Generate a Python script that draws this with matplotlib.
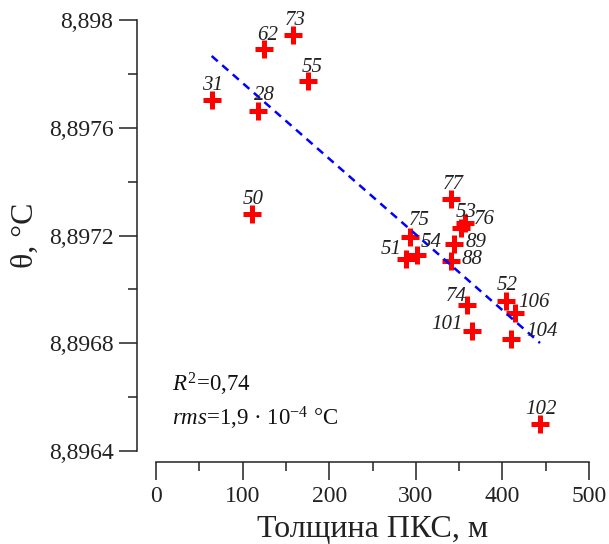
import numpy as np
import matplotlib
matplotlib.use("Agg")
import matplotlib.pyplot as plt
from matplotlib.ticker import MultipleLocator, FuncFormatter

# Well data: thickness of the permafrost layer vs. temperature theta
well_ids = ['31', '62', '73', '55', '28', '50', '77', '53', '76', '89',
            '88', '75', '51', '54', '52', '74', '106', '101', '104', '102']
thickness_m = [64.3, 125.0, 158.6, 175.9, 118.2, 110.5, 340.2, 351.8, 356.5, 344.1,
               340.6, 293.3, 288.7, 301.4, 404.2, 359.5, 414.5, 364.5, 410.0, 443.4]
theta_c = [8.897703, 8.897892, 8.897944, 8.897774, 8.897662, 8.897278, 8.897335,
           8.897226, 8.897247, 8.897168, 8.897105, 8.897193, 8.897113, 8.897126,
           8.896958, 8.896942, 8.896911, 8.896846, 8.896816, 8.896500]

# Label placement: (dx px, dy px, horizontal alignment) relative to each point
label_offsets = {
    '31': (1, 10, 'center'), '62': (3, 9, 'center'), '73': (1.5, 10, 'center'),
    '55': (4, 9, 'center'), '28': (6, 11, 'center'), '50': (1.5, 10, 'center'),
    '77': (2.5, 10, 'center'), '53': (6, 11, 'center'), '76': (9, -1.5, 'left'),
    '89': (12, -3, 'left'), '88': (11, -3, 'left'), '75': (9.5, 12, 'center'),
    '51': (-4, 5, 'right'), '54': (4, 8, 'left'), '52': (1, 10.5, 'center'),
    '74': (-1, 4, 'right'), '106': (3, 6, 'left'), '101': (-9, 1.5, 'right'),
    '104': (15, 3, 'left'), '102': (1, 10, 'center'),
}

SERIF = ['Liberation Serif', 'DejaVu Serif']
plt.rcParams['font.family'] = SERIF
plt.rcParams['mathtext.fontset'] = 'custom'
plt.rcParams['mathtext.rm'] = 'Liberation Serif'
plt.rcParams['mathtext.it'] = 'Liberation Serif:italic'

W, H = 609, 544
fig = plt.figure(figsize=(W / 100, H / 100), dpi=100)
ax = fig.add_axes([156 / W, 1 - 451 / H, (589 - 156) / W, (451 - 20) / H])

x = np.asarray(thickness_m)
y = np.asarray(theta_c)

ax.plot(x, y, linestyle='none', marker='+', ms=13, mew=3.6,
        color='#ff0000', zorder=3)

# Linear regression
slope, intercept = np.polyfit(x, y, 1)
resid = y - (slope * x + intercept)
r2 = 1 - np.sum(resid ** 2) / np.sum((y - y.mean()) ** 2)
rms = np.sqrt(np.mean(resid ** 2))
xf = np.array([x.min(), x.max()])
ax.plot(xf, slope * xf + intercept, color='#0000ff', lw=1.8,
        dashes=(3.2, 2.4), zorder=4)

for wid, xi, yi in zip(well_ids, x, y):
    dx, dy, ha = label_offsets[wid]
    ax.annotate(wid, (xi, yi), xytext=(dx, dy), textcoords='offset pixels',
                ha=ha, va='baseline', fontsize=15, style='italic',
                color='#222222', zorder=5)

r2_txt = r'$R^2$=' + f"{r2:.2f}".replace('.', ',')
rms_txt = (r'$rms$=' + f"{rms / 1e-4:.1f}".replace('.', ',')
           + r' · 10$^{\mathrm{-4}}$ °C')
fig.text(172 / W, 1 - 392 / H, r2_txt, fontsize=16.5, color='#111111',
         va='baseline')
fig.text(172 / W, 1 - 426 / H, rms_txt, fontsize=16.5, color='#111111',
         va='baseline')

ax.set_xlim(0, 500)
ax.set_ylim(8.8964, 8.898)
ax.xaxis.set_major_locator(MultipleLocator(100))
ax.xaxis.set_minor_locator(MultipleLocator(50))
ax.yaxis.set_major_locator(MultipleLocator(0.0004))
ax.yaxis.set_minor_locator(MultipleLocator(0.0002))
ax.yaxis.set_major_formatter(FuncFormatter(
    lambda v, p: f"{v:.4f}".rstrip('0').replace('.', ',')))

for side in ('top', 'right'):
    ax.spines[side].set_visible(False)
ax.spines['left'].set_position(('outward', 19 * 0.72))
ax.spines['bottom'].set_position(('outward', 11 * 0.72))
for side in ('left', 'bottom'):
    ax.spines[side].set_linewidth(1.1)
    ax.spines[side].set_color('#222222')

ax.tick_params(which='major', direction='out', length=13, width=1.1,
               color='#222222', labelsize=17, pad=4, labelcolor='#222222')
ax.tick_params(which='minor', direction='out', length=6.5, width=1.1,
               color='#222222')

ax.set_xlabel('Толщина ПКС, м', fontsize=23, color='#222222', labelpad=6)
ax.set_ylabel('θ, °C', fontsize=23, color='#222222', labelpad=6)

fig.savefig('out.png', dpi=100)
